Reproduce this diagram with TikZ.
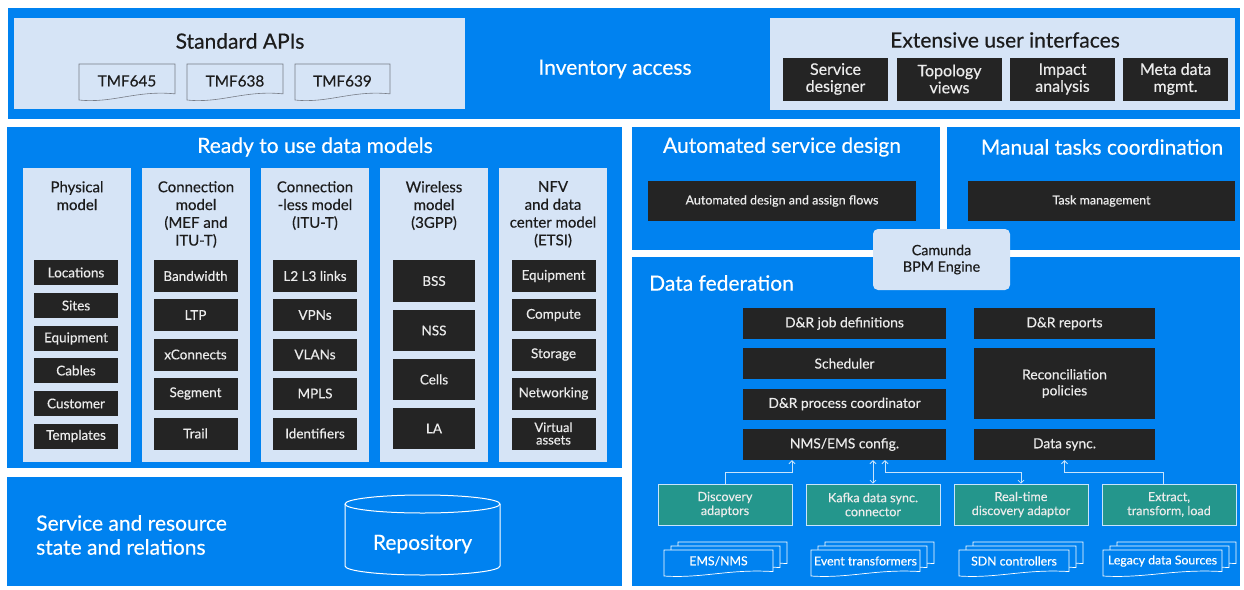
\documentclass[tikz,border=0pt]{standalone}
\usepackage{fontspec}
\setmainfont{Lato}[FakeBold=0.35]
\usetikzlibrary{arrows.meta}
\definecolor{ericblue}{RGB}{0,130,240}
\definecolor{paleblue}{RGB}{214,228,246}
\definecolor{boxblack}{RGB}{36,36,36}
\definecolor{adaptteal}{RGB}{36,150,140}
\definecolor{linkblue}{RGB}{200,228,252}
\definecolor{darktext}{RGB}{28,28,28}
\definecolor{docgray}{RGB}{120,125,135}
\tikzset{
  panel/.style={fill=ericblue, inner sep=0pt},
  lightpanel/.style={fill=paleblue, inner sep=0pt},
  heading/.style={font=\fontsize{21}{24}\selectfont, inner sep=0pt},
  coltitle/.style={font=\fontsize{15}{17.8}\selectfont, align=center, text=darktext, anchor=north, inner sep=0pt},
  blackbox/.style={fill=boxblack, text=white!92!black, align=center, inner sep=0pt, font=\fontsize{13.5}{15}\selectfont},
  modelitem/.style={blackbox, minimum width=84pt, minimum height=32pt},
  uibox/.style={blackbox, minimum width=105pt, minimum height=43pt, font=\fontsize{16}{17}\selectfont},
  fedbox/.style={blackbox, minimum height=31pt, font=\fontsize{13.8}{16}\selectfont},
  flowbox/.style={blackbox, minimum height=40pt, font=\fontsize{12.5}{14}\selectfont},
  adaptor/.style={fill=adaptteal, draw=linkblue, line width=0.7pt, text=white!92!black, align=center, inner sep=0pt, minimum width=134pt, minimum height=41pt, font=\fontsize{12.6}{14}\selectfont},
  apitext/.style={text=darktext, inner sep=0pt, font=\fontsize{15.3}{17}\selectfont},
  stackdoc/.style={draw=white, fill=ericblue, line width=0.7pt, yscale=26},
  stacktext/.style={text=white, inner sep=0pt, font=\fontsize{12.3}{14}\selectfont},
  link/.style={draw=linkblue, line width=0.8pt},
  docshape/.pic={\path [pic actions] (-0.5,-0.5) -- (0.5,-0.5) -- (0.5,0.33) .. controls (0.1,0.22) and (-0.15,0.6) .. (-0.5,0.5) -- cycle;}
}
\begin{document}
\begin{tikzpicture}[x=1pt, y=-1pt, >={Straight Barb[length=3pt,width=6pt]}]
\useasboundingbox [fill=white] (0,0) rectangle (1244,589);

\node (top) [panel, minimum width=1232pt, minimum height=111pt] at (624,63.5) {};
\node (models) [panel, minimum width=615pt, minimum height=341pt] at (314.5,297.5) {};
\node (state) [panel, minimum width=615pt, minimum height=109pt] at (314.5,531.5) {};
\node (autodesign) [panel, minimum width=308pt, minimum height=123pt] at (786,188.5) {};
\node (manual) [panel, minimum width=293pt, minimum height=123pt] at (1093.5,188.5) {};
\node (federation) [panel, minimum width=608pt, minimum height=329pt] at (936,421.5) {};

\node (apis) [lightpanel, minimum width=451pt, minimum height=91pt] at (239.5,63.5) {};
\node (uis) [lightpanel, minimum width=465pt, minimum height=92pt] at (1002.5,64) {};
\node (apistitle) [heading, text=darktext] at (240,41) {Standard APIs};
\node (uistitle) [heading, text=darktext] at (1005,40) {Extensive user interfaces};
\node (access) [heading, text=white] at (615,69) {Inventory access};

\pic [draw=docgray, fill=paleblue, line width=0.6pt, xscale=96, yscale=36] at (127,82) {docshape};
\pic [draw=docgray, fill=paleblue, line width=0.6pt, xscale=96, yscale=36] at (235,82) {docshape};
\pic [draw=docgray, fill=paleblue, line width=0.6pt, xscale=95, yscale=36] at (342.5,82) {docshape};
\node (tmf645) [apitext] at (127,81) {TMF645};
\node (tmf638) [apitext] at (235,81) {TMF638};
\node (tmf639) [apitext] at (342.5,81) {TMF639};

\node (designer) [uibox] at (835.5,79) {Service\\designer};
\node (topology) [uibox] at (949.5,79) {Topology\\views};
\node (impact) [uibox] at (1062.5,79) {Impact\\analysis};
\node (metadata) [uibox] at (1175.5,79) {Meta data\\mgmt.};

\node (modelstitle) [heading, text=white] at (315,147) {Ready to use data models};
\node (physical) [lightpanel, minimum width=108pt, minimum height=294pt] at (77,315) {};
\node (connection) [lightpanel, minimum width=108pt, minimum height=294pt] at (196,315) {};
\node (connless) [lightpanel, minimum width=108pt, minimum height=294pt] at (315,315) {};
\node (wireless) [lightpanel, minimum width=108pt, minimum height=294pt] at (434,315) {};
\node (nfv) [lightpanel, minimum width=108pt, minimum height=294pt] at (553,315) {};
\node (physicaltitle) [coltitle] at (77,181) {Physical\\model};
\node (connectiontitle) [coltitle] at (196,181) {Connection\\model\\(MEF and\\ITU-T)};
\node (connlesstitle) [coltitle] at (315,181) {Connection\\-less model\\(ITU-T)};
\node (wirelesstitle) [coltitle] at (434,181) {Wireless\\model\\(3GPP)};
\node (nfvtitle) [coltitle] at (553,181) {NFV\\and data\\center model\\(ETSI)};

\node (locations) [modelitem, minimum height=25pt] at (76,272.5) {Locations};
\node (sites) [modelitem, minimum height=25pt] at (76,305.5) {Sites};
\node (physequipment) [modelitem, minimum height=25pt] at (76,338.5) {Equipment};
\node (cables) [modelitem, minimum height=25pt] at (76,370.5) {Cables};
\node (customer) [modelitem, minimum height=25pt] at (76,403.5) {Customer};
\node (templates) [modelitem, minimum height=25pt] at (76,436) {Templates};

\node (bandwidth) [modelitem] at (195.5,276) {Bandwidth};
\node (ltp) [modelitem] at (195.5,315) {LTP};
\node (xconnects) [modelitem] at (195.5,354.5) {xConnects};
\node (segment) [modelitem] at (195.5,393.5) {Segment};
\node (trail) [modelitem] at (195.5,433.5) {Trail};

\node (links) [modelitem] at (315,276) {L2 L3 links};
\node (vpns) [modelitem] at (315,315) {VPNs};
\node (vlans) [modelitem] at (315,354.5) {VLANs};
\node (mpls) [modelitem] at (315,393.5) {MPLS};
\node (identifiers) [modelitem] at (315,433.5) {Identifiers};

\node (bss) [modelitem, minimum width=82pt, minimum height=41.5pt] at (434,281) {BSS};
\node (nss) [modelitem, minimum width=82pt, minimum height=41.5pt] at (434,330.5) {NSS};
\node (cells) [modelitem, minimum width=82pt, minimum height=41.5pt] at (434,379.5) {Cells};
\node (la) [modelitem, minimum width=82pt, minimum height=41.5pt] at (434,428.5) {LA};

\node (nfvequipment) [modelitem] at (553.5,276) {Equipment};
\node (compute) [modelitem] at (553.5,315) {Compute};
\node (storage) [modelitem] at (553.5,354.5) {Storage};
\node (networking) [modelitem] at (553.5,393.5) {Networking};
\node (virtual) [modelitem, font=\fontsize{13}{12.5}\selectfont] at (553.5,433.5) {Virtual\\assets};

\node (statetext) [heading, text=white, align=left, anchor=west] at (36,535) {Service and resource\\state and relations};
\draw [white, line width=1pt] (422.5,504) ellipse [x radius=77.5, y radius=9];
\draw [white, line width=1pt] (345,504) -- (345,566) arc [start angle=180, end angle=0, x radius=77.5, y radius=9] -- (500,504);
\node (repository) [heading, text=white] at (422.5,544) {Repository};

\node (autotitle) [heading, text=white] at (782,147) {Automated service design};
\node (autoflows) [flowbox, minimum width=268pt] at (782,201) {Automated design and assign flows};
\node (manualtitle) [heading, text=white] at (1102,147) {Manual tasks coordination};
\node (taskmgmt) [flowbox, minimum width=267pt] at (1101.5,201) {Task management};
\node (camunda) [lightpanel, rounded corners=5pt, minimum width=137pt, minimum height=61pt, align=center, text=darktext, font=\fontsize{14.3}{16.5}\selectfont] at (941.5,259.5) {Camunda\\BPM Engine};

\node (fedtitle) [heading, text=white, anchor=west] at (649,283) {Data federation};
\node (jobs) [fedbox, minimum width=203pt] at (844.5,323.5) {D\&R job definitions};
\node (scheduler) [fedbox, minimum width=203pt] at (844.5,363.5) {Scheduler};
\node (coordinator) [fedbox, minimum width=203pt] at (844.5,404) {D\&R process coordinator};
\node (nms) [fedbox, minimum width=203pt] at (844.5,444.5) {NMS/EMS config.};
\node (reports) [fedbox, minimum width=181pt] at (1064.5,323.5) {D\&R reports};
\node (policies) [fedbox, minimum width=181pt, minimum height=71pt] at (1064.5,383.5) {Reconciliation\\policies};
\node (sync) [fedbox, minimum width=181pt] at (1064.5,444.5) {Data sync.};

\node (discovery) [adaptor] at (725,504.5) {Discovery\\adaptors};
\node (kafka) [adaptor] at (873,504.5) {Kafka data sync.\\connector};
\node (realtime) [adaptor] at (1021,504.5) {Real-time\\discovery adaptor};
\node (etl) [adaptor] at (1169,504.5) {Extract,\\transform, load};

\coordinate (discbend) at (792,472);
\coordinate (rtbend) at (885,472);
\coordinate (etlbend) at (1163,472);
\draw [link, ->] (discovery.north) |- (discbend) -- (discbend |- nms.south);
\draw [link, <->] (kafka.north) -- (kafka.north |- nms.south);
\draw [link, <->] (rtbend |- nms.south) -- (rtbend) -| (realtime.north);
\draw [link, ->] (etlbend |- etl.north) -- (etlbend) -| (sync.south);

\pic [stackdoc, xscale=109] at (732.5,555) {docshape};
\pic [stackdoc, xscale=109] at (725.5,559) {docshape};
\pic [stackdoc, xscale=109] at (718.5,563) {docshape};
\pic [stackdoc, xscale=109] at (879.5,555) {docshape};
\pic [stackdoc, xscale=109] at (872.5,559) {docshape};
\pic [stackdoc, xscale=109] at (865.5,563) {docshape};
\pic [stackdoc, xscale=110] at (1028,555) {docshape};
\pic [stackdoc, xscale=110] at (1021,559) {docshape};
\pic [stackdoc, xscale=110] at (1014,563) {docshape};
\pic [stackdoc, xscale=119] at (1176.5,555) {docshape};
\pic [stackdoc, xscale=119] at (1169.5,559) {docshape};
\pic [stackdoc, xscale=119] at (1162.5,563) {docshape};
\node (emsnms) [stacktext] at (718.5,561) {EMS/NMS};
\node (transformers) [stacktext] at (865.5,561) {Event transformers};
\node (sdn) [stacktext] at (1014,561) {SDN controllers};
\node (legacy) [stacktext] at (1162.5,561) {Legacy data Sources};
\end{tikzpicture}
\end{document}
